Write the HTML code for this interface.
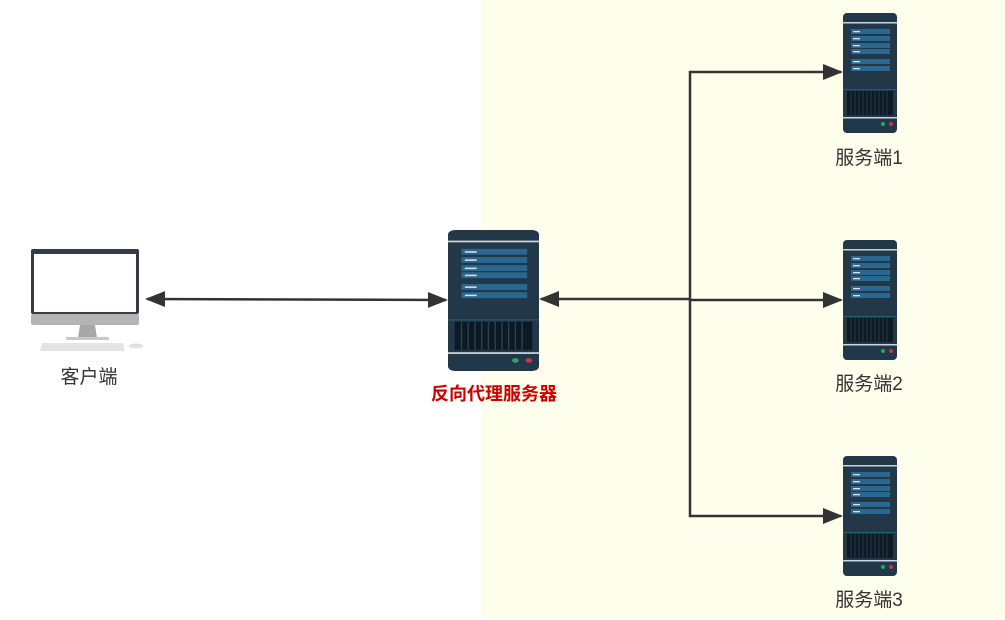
<!DOCTYPE html>
<html><head><meta charset="utf-8"><style>
html,body{margin:0;padding:0;background:#fff;}
svg{display:block;}
text{font-family:"Liberation Sans","Noto Sans CJK SC",sans-serif;}
</style></head><body>
<svg width="1005" height="620" viewBox="0 0 1005 620" xmlns="http://www.w3.org/2000/svg">
<defs>
<symbol id="ss" viewBox="0 0 54 120" preserveAspectRatio="none">
<rect x="0" y="0" width="54" height="120" rx="4" fill="#223747"/>
<rect x="0" y="9" width="54" height="1.5" fill="#c9d4dc"/>
<rect x="8" y="16" width="39" height="5" fill="#2a6890"/>
<rect x="8" y="23" width="39" height="5" fill="#2a6890"/>
<rect x="8" y="30" width="39" height="5" fill="#2a6890"/>
<rect x="8" y="36" width="39" height="5" fill="#2a6890"/>
<rect x="8" y="46" width="39" height="5" fill="#2a6890"/>
<rect x="8" y="53" width="39" height="5" fill="#2a6890"/>
<rect x="10" y="18" width="7" height="1.3" fill="#dde"/>
<rect x="10" y="25" width="7" height="1.3" fill="#dde"/>
<rect x="10" y="32" width="7" height="1.3" fill="#dde"/>
<rect x="10" y="38" width="7" height="1.3" fill="#dde"/>
<rect x="10" y="48" width="7" height="1.3" fill="#dde"/>
<rect x="10" y="55" width="7" height="1.3" fill="#dde"/>
<rect x="0" y="76" width="54" height="1" fill="#2a5a7a"/>
<rect x="4" y="78" width="46" height="24" fill="#0d1a24"/>
<g stroke="#2a4355" stroke-width="0.8">
<line x1="8" y1="78" x2="8" y2="102"/><line x1="12" y1="78" x2="12" y2="102"/><line x1="16" y1="78" x2="16" y2="102"/><line x1="20" y1="78" x2="20" y2="102"/><line x1="24" y1="78" x2="24" y2="102"/><line x1="28" y1="78" x2="28" y2="102"/><line x1="32" y1="78" x2="32" y2="102"/><line x1="36" y1="78" x2="36" y2="102"/><line x1="40" y1="78" x2="40" y2="102"/><line x1="44" y1="78" x2="44" y2="102"/>
</g>
<rect x="0" y="104" width="54" height="1.5" fill="#c9d4dc"/>
<circle cx="40" cy="111" r="2" fill="#2aa56a"/>
<circle cx="48" cy="111" r="2" fill="#c8344c"/>
</symbol>
<marker id="ah" viewBox="0 0 10 10" refX="9" refY="5" markerWidth="8" markerHeight="8" orient="auto-start-reverse">
<path d="M0,1 L10,5 L0,9 Z" fill="#333"/>
</marker>
</defs>
<rect x="481" y="0" width="524" height="618" fill="#fefeec"/>

<!-- computer -->
<rect x="31" y="249" width="108" height="65" rx="2" fill="#363a45"/>
<rect x="34" y="254" width="102" height="58" fill="#fff"/>
<rect x="31" y="314" width="108" height="11" rx="2" fill="#b4b4b4"/>
<polygon points="80,325 95,325 97,338 78,338" fill="#a8a8a8"/>
<rect x="66" y="337" width="43" height="3" rx="1" fill="#c8c8c8"/>
<polygon points="42,343 123,343 125,351 40,351" fill="#e4e4e4"/>
<ellipse cx="136" cy="346" rx="7" ry="2.5" fill="#e0e0e0"/>
<text x="89" y="383" font-size="19" fill="#333" text-anchor="middle">客户端</text>

<!-- main server -->
<use href="#ss" x="448" y="230" width="91" height="141"/>
<text x="494" y="400" font-size="18" font-weight="bold" fill="#cc0000" text-anchor="middle">反向代理服务器</text>

<!-- small servers -->
<use href="#ss" x="843" y="13" width="54" height="120"/>
<use href="#ss" x="843" y="240" width="54" height="120"/>
<use href="#ss" x="843" y="456" width="54" height="120"/>
<text x="869" y="164" font-size="19" fill="#333" text-anchor="middle">服务端1</text>
<text x="869" y="390" font-size="19" fill="#333" text-anchor="middle">服务端2</text>
<text x="869" y="606" font-size="19" fill="#333" text-anchor="middle">服务端3</text>

<!-- connectors -->
<g stroke="#333" stroke-width="2.5" fill="none">
<line x1="147" y1="299" x2="446" y2="300" marker-start="url(#ah)" marker-end="url(#ah)"/>
<path d="M690,299 L541,299" marker-end="url(#ah)"/>
<path d="M690,300 L690,72 L841,72" marker-end="url(#ah)"/>
<path d="M690,300 L841,300" marker-end="url(#ah)"/>
<path d="M690,300 L690,516 L841,516" marker-end="url(#ah)"/>
</g>
</svg>
</body></html>
